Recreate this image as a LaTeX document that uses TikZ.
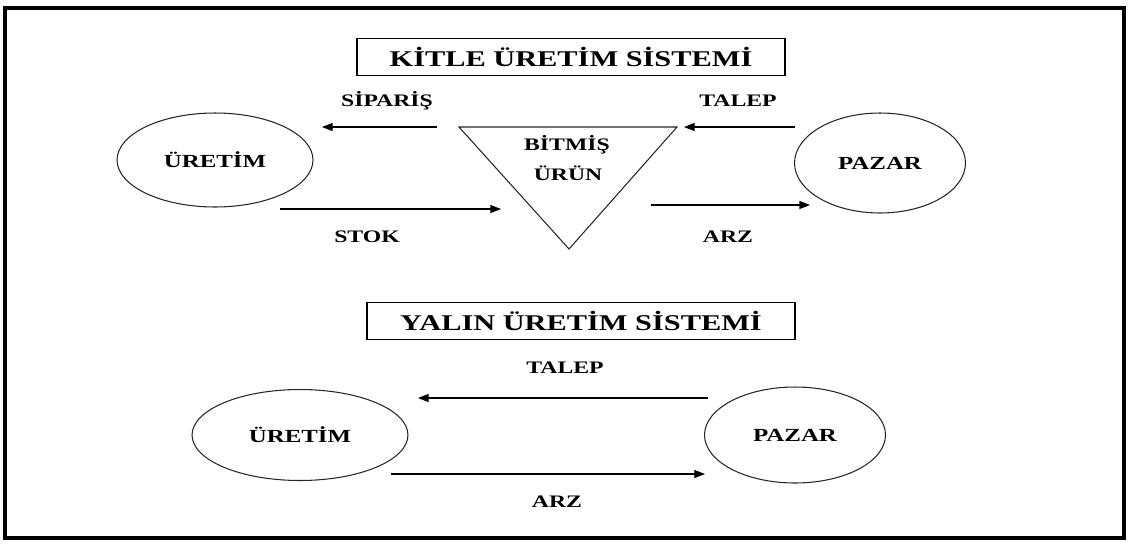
\documentclass[tikz,border=0pt]{standalone}
\usepackage{fontspec}
\setmainfont{Liberation Serif}
\newfontfamily\lbl[FakeStretch=1.35]{Liberation Serif}
\usetikzlibrary{arrows.meta,shapes.geometric}
\begin{document}
\begin{tikzpicture}[x=0.02cm,y=-0.02cm,
 lab/.style={font=\lbl\bfseries\fontsize{10}{12}\selectfont, inner sep=0, anchor=base},
 elab/.style={font=\lbl\bfseries\fontsize{10.5}{12}\selectfont},
 ttl/.style={draw, line width=0.8pt, font=\lbl\bfseries\fontsize{12.8}{15}\selectfont, minimum width=8.56cm, minimum height=0.74cm, inner sep=0},
 ell/.style={draw=black!85, ellipse, line width=0.6pt, inner sep=0},
 arr/.style={-{Triangle[length=6pt,width=4.5pt]}, line width=0.6pt},
 tri/.style={draw=black!85, line width=0.6pt, line join=miter}
]
\useasboundingbox (0,0) rectangle (1131,545);
\draw[line width=2.3pt] (5,8) rectangle (1124,538);

% ---- Kitle uretim sistemi
\node[ttl] (t1) at (571,57) {KİTLE ÜRETİM SİSTEMİ};
\node[ell, minimum width=3.92cm, minimum height=1.88cm, elab] (u1) at (215,160) {ÜRETİM};
\node[ell, minimum width=3.42cm, minimum height=2.0cm, elab] (p1) at (880,163) {PAZAR};

\coordinate (ta) at (459,127);
\coordinate (tb) at (677,127);
\coordinate (tc) at (569,249);
\draw[tri] (ta) -- (tb) -- (tc) -- cycle;
\node[lab] (bit) at (567,150) {BİTMİŞ};
\node[lab] (urn) at (568,180) {ÜRÜN};

\coordinate (s1) at (437,127);
\coordinate (s2) at (322,127);
\draw[arr] (s1) -- (s2);
\node[lab] (sip) at (387,106) {SİPARİŞ};

\coordinate (k1) at (795,127);
\coordinate (k2) at (684,127);
\draw[arr] (k1) -- (k2);
\node[lab] (tal1) at (738,106) {TALEP};

\coordinate (st1) at (280,209);
\coordinate (st2) at (501,209);
\draw[arr] (st1) -- (st2);
\node[lab] (stok) at (367,242) {STOK};

\coordinate (a1) at (651,205);
\coordinate (a2) at (810,205);
\draw[arr] (a1) -- (a2);
\node[lab] (arz1) at (728,242) {ARZ};

% ---- Yalin uretim sistemi
\node[ttl] (t2) at (581,321) {YALIN ÜRETİM SİSTEMİ};
\node[ell, minimum width=4.32cm, minimum height=1.82cm, elab] (u2) at (300,435) {ÜRETİM};
\node[ell, minimum width=3.62cm, minimum height=1.92cm, elab] (p2) at (795,435) {PAZAR};

\coordinate (l1) at (708,398);
\coordinate (l2) at (418,398);
\draw[arr] (l1) -- (l2);
\node[lab] (tal2) at (565,373) {TALEP};

\coordinate (m1) at (391,474);
\coordinate (m2) at (705,474);
\draw[arr] (m1) -- (m2);
\node[lab] (arz2) at (557,507) {ARZ};
\end{tikzpicture}
\end{document}
